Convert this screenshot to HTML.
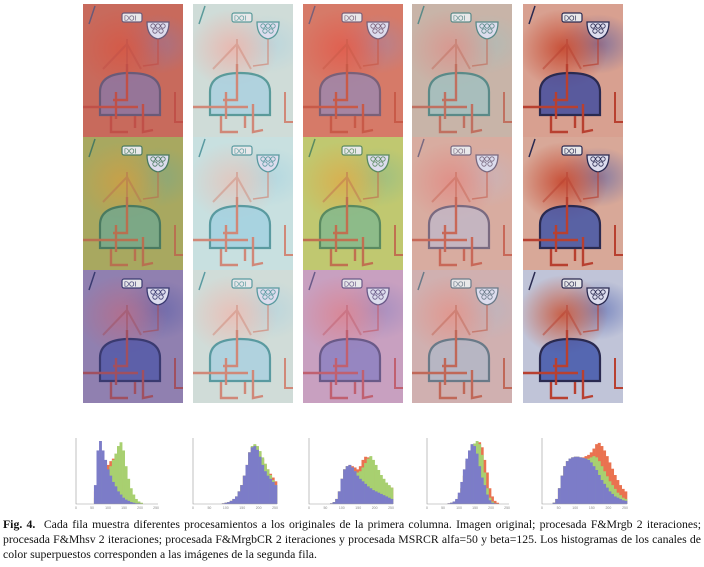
<!DOCTYPE html>
<html><head><meta charset="utf-8">
<style>
body{margin:0;width:704px;height:567px;background:#fff;position:relative;overflow:hidden;font-family:"Liberation Serif",serif}
.p{position:absolute;width:100px;height:133px;overflow:hidden}
.p svg{position:absolute;left:0;top:0}
#cap{position:absolute;left:3px;top:517px;width:698px;font-size:11.75px;line-height:15px;text-align:justify;color:#111}
</style></head><body>
<div id="panels"></div>
<svg id="hist" width="704" height="515" style="position:absolute;left:0;top:0"></svg>
<div id="cap"><b>Fig. 4.</b>&nbsp; Cada fila muestra diferentes procesamientos a los originales de la primera columna. Imagen original; procesada F&amp;Mrgb 2 iteraciones; procesada F&amp;Mhsv 2 iteraciones; procesada F&amp;MrgbCR 2 iteraciones y procesada MSRCR alfa=50 y beta=125. Los histogramas de los canales de color superpuestos corresponden a las imágenes de la segunda fila.</div>
<script>
const cols=[83,193,303,412,523];
const rows=[4,137,270];
const panelStyles=[
 [["#c86a5c","#d45a48","#8a78a8","#6a5a78","#c05048"],["#cfdcd8","#e8b8b0","#a8d0e0","#5a9a9a","#d08878"],["#d67a68","#e06050","#9a88b0","#7a6078","#c85a48"],["#c8b4a8","#d89890","#a0c0c0","#5a8a88","#c07060"],["#d8a090","#c85038","#3a48a0","#2a2a50","#b84030"]],
 [["#a8a860","#c8a048","#70a890","#4a7a60","#b87050"],["#c8e0e0","#e0c8c0","#a0d0e0","#5a9aa0","#d08878"],["#c0c870","#d8b050","#80b890","#5a8a60","#c07050"],["#d8aca0","#e09088","#c0b8c8","#7a6a80","#c86858"],["#d8a898","#c85038","#3a50a8","#2a2a50","#b84030"]],
 [["#9080b0","#b07090","#5058a8","#3a3a70","#a05060"],["#d0dcd8","#e8c0b8","#a8d0e0","#5a9aa0","#d08878"],["#c8a0c0","#d88898","#8a80c0","#6a5a88","#c06070"],["#d0b0b0","#e09890","#b0b8c8","#6a7a88","#c06858"],["#c0c4d8","#c86048","#3a50a8","#2a2a50","#b84030"]]
];
const pc=document.getElementById('panels');
rows.forEach((y,r)=>cols.forEach((x,c)=>{
 const s=panelStyles[r][c];
 const d=document.createElement('div');
 d.className='p';
 
 
 d.style.left=x+'px';d.style.top=y+'px';
 d.style.background=`radial-gradient(ellipse 45px 40px at 40px 45px, ${s[1]}, transparent),radial-gradient(ellipse 40px 30px at 75px 40px, ${s[2]}88, transparent),${s[0]}`;
 d.innerHTML=`<svg width="100" height="133" viewBox="0 0 100 133">
 <path d="M17 111 L17 88 Q17 69 47 69 Q77 69 77 88 L77 111 Z" fill="${s[2]}" fill-opacity="0.8" stroke="${s[3]}" stroke-width="2.2"/>
 <path d="M0 103 L55 103 M44 60 L44 96 L30 96 M33 88 L33 115 M60 100 L60 128 L70 126 M28 112 L28 128 L45 128 M52 112 L52 124" stroke="${s[4]}" stroke-width="2.4" fill="none"/>
 <path d="M44 62 L44 35 M44 40 L20 65 M44 40 L58 65" stroke="${s[4]}" stroke-width="2" fill="none" opacity=".5"/>
 <rect x="39" y="9" width="20" height="9" rx="2" fill="#e8e8ea" stroke="${s[3]}" stroke-width="1.2"/>
 <text x="41" y="16.5" font-size="7" font-family="Liberation Sans, sans-serif" fill="${s[3]}">DOI</text>
 <path d="M64 18 L86 18 Q86 33 75 35 Q64 33 64 18 Z" fill="#dde" stroke="${s[3]}" stroke-width="1.3"/>
 <path d="M75 35 L75 60 L60 62" fill="none" stroke="${s[4]}" stroke-width="1.5" opacity=".7"/>
 <g fill="none" stroke="${s[3]}" stroke-width="0.8"><circle cx="70" cy="22" r="2.2"/><circle cx="75" cy="22" r="2.2"/><circle cx="80" cy="22" r="2.2"/><circle cx="72" cy="27" r="2.2"/><circle cx="78" cy="27" r="2.2"/></g>
 <path d="M92 88 L92 118 L100 118" stroke="${s[4]}" stroke-width="2" fill="none"/>
 <path d="M12 2 L6 20" stroke="${s[3]}" stroke-width="1.5"/>
 </svg>`;
 pc.appendChild(d);
}));

const hRed=[
 [0,0,0,0,0,0,0,0.2,0.6,0.75,0.7,0.65,0.62,0.68,0.72,0.6,0.5,0.4,0.3,0.22,0.15,0.1,0.06,0.04,0.02,0.01,0,0,0,0,0,0],
 [0,0,0,0,0,0,0,0,0,0,0,0.01,0.02,0.03,0.05,0.08,0.12,0.2,0.3,0.45,0.62,0.82,0.9,0.93,0.9,0.82,0.72,0.63,0.55,0.48,0.42,0.36],
 [0,0,0,0,0,0,0,0,0.01,0.03,0.08,0.2,0.4,0.55,0.6,0.62,0.6,0.58,0.55,0.6,0.7,0.75,0.74,0.65,0.58,0.5,0.44,0.38,0.34,0.3,0.28,0.26],
 [0,0,0,0,0,0,0,0,0.01,0.02,0.03,0.06,0.12,0.25,0.45,0.68,0.82,0.9,0.92,0.95,0.98,0.9,0.7,0.5,0.25,0.12,0.05,0.02,0,0,0,0],
 [0,0,0,0,0.02,0.08,0.25,0.45,0.6,0.68,0.72,0.74,0.75,0.75,0.74,0.74,0.76,0.78,0.82,0.88,0.95,0.97,0.92,0.85,0.76,0.66,0.56,0.46,0.38,0.3,0.24,0.2]
];
const hGreen=[
 [0,0,0,0,0,0,0,0.1,0.4,0.55,0.5,0.5,0.52,0.6,0.7,0.8,0.92,0.98,0.85,0.6,0.4,0.25,0.15,0.08,0.04,0.02,0,0,0,0,0,0],
 [0,0,0,0,0,0,0,0,0,0,0,0.01,0.02,0.03,0.05,0.08,0.12,0.2,0.3,0.45,0.62,0.82,0.92,0.95,0.92,0.84,0.74,0.64,0.55,0.46,0.38,0.3],
 [0,0,0,0,0,0,0,0,0.01,0.03,0.08,0.2,0.4,0.55,0.6,0.6,0.56,0.52,0.5,0.52,0.58,0.65,0.72,0.76,0.7,0.62,0.54,0.46,0.4,0.34,0.3,0.26],
 [0,0,0,0,0,0,0,0,0.01,0.02,0.03,0.06,0.12,0.25,0.45,0.68,0.85,0.93,0.96,1.0,0.95,0.78,0.5,0.25,0.1,0.04,0.01,0,0,0,0,0],
 [0,0,0,0,0.02,0.08,0.25,0.45,0.6,0.68,0.72,0.74,0.75,0.75,0.74,0.73,0.72,0.72,0.74,0.76,0.74,0.68,0.6,0.52,0.44,0.36,0.3,0.24,0.18,0.14,0.1,0.08]
];
const hBlue=[
 [0,0,0,0,0,0,0,0.3,0.85,1.0,0.85,0.7,0.55,0.45,0.35,0.28,0.2,0.15,0.1,0.07,0.05,0.03,0.02,0.01,0.01,0,0,0,0,0,0,0],
 [0,0,0,0,0,0,0,0,0,0,0,0.01,0.02,0.03,0.05,0.08,0.12,0.2,0.3,0.45,0.62,0.82,0.9,0.92,0.86,0.75,0.62,0.52,0.45,0.4,0.35,0.3],
 [0,0,0,0,0,0,0,0,0.01,0.03,0.08,0.2,0.4,0.55,0.6,0.62,0.58,0.52,0.45,0.4,0.36,0.32,0.28,0.25,0.22,0.2,0.18,0.16,0.14,0.12,0.1,0.08],
 [0,0,0,0,0,0,0,0,0.01,0.02,0.04,0.08,0.18,0.35,0.55,0.72,0.85,0.95,0.92,0.8,0.6,0.42,0.3,0.15,0.06,0.02,0.01,0,0,0,0,0],
 [0,0,0,0,0.02,0.08,0.25,0.45,0.6,0.68,0.72,0.74,0.75,0.75,0.74,0.73,0.72,0.7,0.66,0.6,0.54,0.46,0.38,0.32,0.26,0.2,0.16,0.12,0.1,0.08,0.06,0.05]
];
const xTicks=[0,50,100,150,200,250];
const hL=[76,193,309,427,542], hR=[158,277,393,509,627];
const hTop=441,hBot=504;
const NS='http://www.w3.org/2000/svg';
const hs=document.getElementById('hist');
function mk(t,a){const e=document.createElementNS(NS,t);for(const k in a)e.setAttribute(k,a[k]);hs.appendChild(e);return e;}
function xs(h,v){return hL[h]+(hR[h]-hL[h])*v/256;}
function ys(v){return hBot-(hBot-hTop)*v;}
const chans=[[hRed,'#ea7250'],[hGreen,'#a8d070'],[hBlue,'#7c7cc8']];
for(let h=0;h<5;h++){
 chans.forEach(([arr,col])=>{
  arr[h].forEach((v,i)=>{
   if(v<=0)return;
   const b=mk('rect',{x:xs(h,i*8),y:ys(v),width:xs(h,8)-xs(h,0)+0.3,height:hBot-ys(v),fill:col});
   
   
  });
 });
 const ax=mk('path',{d:`M${hL[h]} ${hTop-3} L${hL[h]} ${hBot} L${hR[h]} ${hBot}`,stroke:'#999',fill:'none','stroke-width':0.6});
 
 
 xTicks.forEach(t=>{
  const tx=mk('text',{x:xs(h,t),y:hBot+5,'font-size':3.5,'text-anchor':'middle',fill:'#888','font-family':'Liberation Sans, sans-serif'});
  tx.textContent=t;
  
  
 });
}
</script>
</body></html>
